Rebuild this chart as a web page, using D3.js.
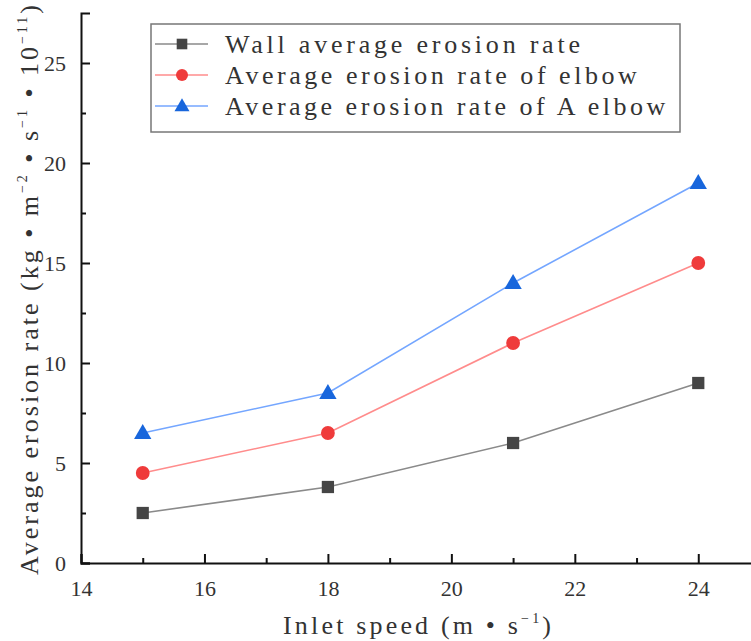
<!DOCTYPE html>
<html>
<head>
<meta charset="utf-8">
<script src="https://cdn.jsdelivr.net/npm/d3@7"></script>
<style>
  body { margin: 0; background: #fff; }
  text { font-family: "Liberation Serif", "DejaVu Serif", serif; fill: #222; }
</style>
</head>
<body>
<div id="vis-holder"></div>
<script>
// data
var SPEEDS = [15, 18, 21, 24];
var WALL = [2.5, 3.8, 6, 9];
var ELBOW = [4.5, 6.5, 11, 15];
var A_ELBOW = [6.5, 8.5, 14, 19];
var SERIES_NAMES = ["Wall average erosion rate", "Average erosion rate of elbow", "Average erosion rate of A elbow"];
var X_TICKS = [14, 16, 18, 20, 22, 24];
var Y_TICKS = [0, 5, 10, 15, 20, 25];

var SERIF = '"Liberation Serif", "DejaVu Serif", serif';
var W = 751, H = 641;
var margin = {top: 13, right: -9, bottom: 78, left: 81};
var width = W - margin.left - margin.right,
    height = H - margin.top - margin.bottom;

var svg = d3.select("#vis-holder")
  .append("svg")
    .attr("width", W)
    .attr("height", H);
var g = svg.append("g")
    .attr("transform", "translate(" + margin.left + "," + margin.top + ")");

var x = d3.scaleLinear().domain([14, 25]).range([0, width]);
var y = d3.scaleLinear().domain([0, 27.5]).range([height, 0]);

// minor ticks (inward)
g.append("g")
  .attr("transform", "translate(0," + height + ")")
  .call(d3.axisTop(x).tickValues(d3.range(15, 25, 2)).tickSize(5).tickFormat(""))
  .call(a => a.select(".domain").remove());
g.append("g")
  .call(d3.axisRight(y).tickValues(d3.range(2.5, 27.5, 5)).tickSize(5).tickFormat(""))
  .call(a => a.select(".domain").remove());

// major ticks
var xAxis = g.append("g")
  .attr("transform", "translate(0," + height + ")")
  .call(d3.axisTop(x).tickValues(X_TICKS).tickSize(9).tickFormat(d3.format("d")));
xAxis.selectAll("text")
  .attr("y", 17).attr("dy", "0.71em")
  .style("font-family", SERIF)
  .style("font-size", "22px")
  .style("fill", "#333");

var yAxis = g.append("g")
  .call(d3.axisRight(y).tickValues(Y_TICKS).tickSize(9).tickFormat(d3.format("d")));
yAxis.selectAll("text")
  .attr("x", -15).attr("text-anchor", "end")
  .style("font-family", SERIF)
  .style("font-size", "22px")
  .style("fill", "#333");

g.selectAll(".domain").attr("stroke", "#111").attr("stroke-width", 2);
g.selectAll(".tick line").attr("stroke", "#111").attr("stroke-width", 2);

// lines + markers
var series = [
  {name: SERIES_NAMES[0], vals: WALL, line: "#8a8a8a", fill: "#454545", shape: d3.symbolSquare, size: 150},
  {name: SERIES_NAMES[1], vals: ELBOW, line: "#ff8c8c", fill: "#ef3b3b", shape: d3.symbolCircle, size: 150},
  {name: SERIES_NAMES[2], vals: A_ELBOW, line: "#74a6ff", fill: "#1866dc", shape: d3.symbolTriangle, size: 130}
];

var line = d3.line().x(d => x(d.x)).y(d => y(d.y));

series.forEach(function(s) {
  var pts = SPEEDS.map((sp, i) => ({x: sp, y: s.vals[i]}));
  g.append("path")
    .datum(pts)
    .attr("fill", "none")
    .attr("stroke", s.line)
    .attr("stroke-width", 1.6)
    .attr("d", line);
  g.selectAll(null)
    .data(pts)
    .enter()
    .append("path")
      .attr("transform", d => "translate(" + x(d.x) + "," + (y(d.y) + (s.shape === d3.symbolTriangle ? 1 : 0)) + ")")
      .attr("d", d3.symbol().type(s.shape).size(s.size))
      .attr("fill", s.fill);
});

// legend
var legend = svg.append("g").attr("transform", "translate(151,24)");
legend.append("rect")
  .attr("width", 529).attr("height", 108)
  .attr("fill", "#fff")
  .attr("stroke", "#777").attr("stroke-width", 1.5);

series.forEach(function(s, i) {
  var row = legend.append("g").attr("transform", "translate(0," + (20 + i * 31) + ")");
  row.append("line")
    .attr("x1", 4).attr("x2", 57)
    .attr("stroke", s.line).attr("stroke-width", 1.6);
  row.append("path")
    .attr("transform", "translate(31," + (s.shape === d3.symbolTriangle ? 1 : 0) + ")")
    .attr("d", d3.symbol().type(s.shape).size(s.size * 0.75))
    .attr("fill", s.fill);
  row.append("text")
    .attr("x", 74).attr("dy", "0.35em")
    .attr("textLength", s.name.length * 14.2)
    .attr("lengthAdjust", "spacing")
    .style("font-size", "26px")
    .style("fill", "#333")
    .text(s.name);
});

// axis titles
var xt = svg.append("text")
  .attr("x", 417).attr("y", 634)
  .attr("text-anchor", "middle")
  .attr("textLength", 268)
  .attr("lengthAdjust", "spacing")
  .style("font-size", "26px")
  .style("fill", "#333");
xt.append("tspan").text("Inlet speed (m • s");
xt.append("tspan").attr("dy", -11).style("font-size", "14px").text("−1");
xt.append("tspan").attr("dy", 11).text(")");

var yt = svg.append("text")
  .attr("transform", "translate(38,290) rotate(-90)")
  .attr("text-anchor", "middle")
  .attr("textLength", 570)
  .attr("lengthAdjust", "spacing")
  .style("font-size", "26px")
  .style("fill", "#333");
yt.append("tspan").text("Average erosion rate (kg • m");
yt.append("tspan").attr("dy", -11).style("font-size", "14px").text("−2");
yt.append("tspan").attr("dy", 11).text(" • s");
yt.append("tspan").attr("dy", -11).style("font-size", "14px").text("−1");
yt.append("tspan").attr("dy", 11).text(" • 10");
yt.append("tspan").attr("dy", -11).style("font-size", "14px").text("−11");
yt.append("tspan").attr("dy", 11).text(")");
</script>
</body>
</html>
